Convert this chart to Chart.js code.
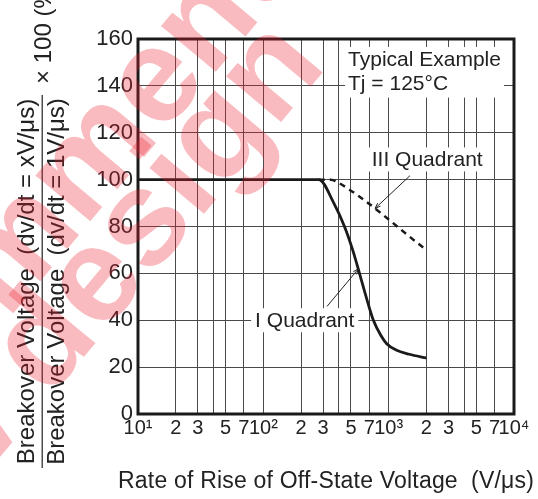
<!DOCTYPE html>
<html>
<head>
<meta charset="utf-8">
<script src="https://cdn.jsdelivr.net/npm/chart.js@4/dist/chart.umd.min.js"></script>
<style>
  html, body { margin: 0; padding: 0; background: #fff; }
  canvas { display: block; }
</style>
</head>
<body>
<canvas id="chart" width="538" height="499"></canvas>
<script>
// data
const iQuadrantX = [10, 277, 365, 444, 516, 585, 661, 755, 870, 964, 1146, 1462, 2000];
const iQuadrantY = [100, 100, 90, 80, 70, 60, 50, 40, 33.4, 30, 27.3, 25.5, 23.9];
const iiiQuadrantX = [277, 345, 400, 2000];
const iiiQuadrantY = [100, 100, 98.6, 70];

const xTicks = [10, 20, 30, 40, 50, 70, 100, 200, 300, 400, 500, 700, 1000, 2000, 3000, 4000, 5000, 7000, 10000];
const xTickLabels = ['10¹', '2', '3', '', '5', '7', '10²', '2', '3', '', '5', '7', '10³', '2', '3', '', '5', '7', '10⁴'];
const yTicks = [0, 10, 20, 30, 40, 50, 60, 70, 80, 90, 100, 110, 120, 130, 140, 150, 160];
const yTickLabels = ['0', '', '20', '', '40', '', '60', '', '80', '', '100', '', '120', '', '140', '', '160'];

const xTitle = 'Rate of Rise of Off-State Voltage  (V/μs)';
const yTitleNum = 'Breakover Voltage  (dv/dt = xV/μs)';
const yTitleDen = 'Breakover Voltage  (dv/dt = 1V/μs)';
const yTitleTimes = '× 100 (%)';

// annotation anchors in data units
const noteLines = ['Typical Example', 'Tj = 125°C'];
const noteAt = { x: 474, y: [151.5, 141] };
const iiiLabel = { text: 'III Quadrant', x: 733, y: 108.6, from: [1480, 101.7], to: [778, 87.7] };
const iLabel = { text: 'I Quadrant', x: 86, y: 40, from: [322, 45.9], to: [575, 62] };

const watermark = ['Not recommended', 'for new design'];

const FONT = '"Liberation Sans", Arial, Helvetica, sans-serif';
const INK = '#222';

function toXY(xs, ys) {
  return xs.map((x, i) => ({ x: x, y: ys[i] }));
}

// draw text stretched to a given width with letter spacing
function spacedText(ctx, text, x, y, width) {
  ctx.letterSpacing = '0px';
  const w = ctx.measureText(text).width;
  const sp = (width - w) / text.length;
  ctx.letterSpacing = sp.toFixed(2) + 'px';
  ctx.fillText(text, x, y);
  ctx.letterSpacing = '0px';
}

const decorations = {
  id: 'decorations',
  afterDatasetsDraw(chart) {
    const ctx = chart.ctx;
    const xs = chart.scales.x, ys = chart.scales.y;
    const area = chart.chartArea;

    ctx.save();
    ctx.font = '21px ' + FONT;
    ctx.textBaseline = 'middle';
    ctx.textAlign = 'left';

    function boxed(text, xv, yv) {
      const px = xs.getPixelForValue(xv), py = ys.getPixelForValue(yv);
      const w = ctx.measureText(text).width;
      ctx.fillStyle = '#fff';
      ctx.fillRect(px - 4, py - 12, w + 8, 24);
      ctx.fillStyle = INK;
      ctx.fillText(text, px, py + 1);
    }
    // typical example block
    let wMax = 0;
    noteLines.forEach(t => { wMax = Math.max(wMax, ctx.measureText(t).width); });
    const nx = xs.getPixelForValue(noteAt.x);
    const ny0 = ys.getPixelForValue(noteAt.y[0]), ny1 = ys.getPixelForValue(noteAt.y[1]);
    ctx.fillStyle = '#fff';
    ctx.fillRect(nx - 3, ny0 - 12, wMax + 6, ny1 - ny0 + 26);
    ctx.fillStyle = INK;
    noteLines.forEach((t, i) => ctx.fillText(t, nx, ys.getPixelForValue(noteAt.y[i]) + 1));

    boxed(iiiLabel.text, iiiLabel.x, iiiLabel.y);
    boxed(iLabel.text, iLabel.x, iLabel.y);

    // leader lines
    ctx.strokeStyle = INK;
    ctx.lineWidth = 1;
    [iiiLabel, iLabel].forEach(l => {
      const x0 = xs.getPixelForValue(l.from[0]), y0 = ys.getPixelForValue(l.from[1]);
      const x1 = xs.getPixelForValue(l.to[0]), y1 = ys.getPixelForValue(l.to[1]);
      ctx.beginPath();
      ctx.moveTo(x0, y0);
      ctx.lineTo(x1, y1);
      ctx.stroke();
      const a = Math.atan2(y1 - y0, x1 - x0);
      ctx.beginPath();
      ctx.moveTo(x1, y1);
      ctx.lineTo(x1 - 6 * Math.cos(a - 0.35), y1 - 6 * Math.sin(a - 0.35));
      ctx.moveTo(x1, y1);
      ctx.lineTo(x1 - 6 * Math.cos(a + 0.35), y1 - 6 * Math.sin(a + 0.35));
      ctx.stroke();
    });

    // frame
    ctx.strokeStyle = '#1a1a1a';
    ctx.lineWidth = 3;
    ctx.strokeRect(area.left, area.top, area.right - area.left, area.bottom - area.top);
    ctx.restore();
  },
  afterDraw(chart) {
    const ctx = chart.ctx;
    const area = chart.chartArea;
    ctx.save();
    ctx.fillStyle = INK;
    ctx.font = '23px ' + FONT;
    ctx.textBaseline = 'alphabetic';

    // x title, centred under the plot
    ctx.textAlign = 'left';
    const xMid = (area.left + area.right) / 2;
    spacedText(ctx, xTitle, xMid - 208, 488, 416);

    // y title as a fraction
    ctx.font = '24px ' + FONT;
    const mid = 281.5;
    ctx.save();
    ctx.translate(33.5, mid);
    ctx.rotate(-Math.PI / 2);
    ctx.textAlign = 'center';
    ctx.fillText(yTitleNum, 0, 0);
    ctx.restore();

    ctx.save();
    ctx.translate(63.5, mid);
    ctx.rotate(-Math.PI / 2);
    ctx.textAlign = 'center';
    ctx.fillText(yTitleDen, 0, 0);
    ctx.restore();

    ctx.fillRect(41.6, 95, 1.2, 373);

    ctx.save();
    ctx.translate(50.5, 84);
    ctx.rotate(-Math.PI / 2);
    ctx.textAlign = 'left';
    ctx.fillText(yTitleTimes, 0, 0);
    ctx.restore();

    // watermark
    ctx.fillStyle = 'rgba(235, 30, 45, 0.3)';
    ctx.font = 'bold 135px ' + FONT;
    ctx.textAlign = 'right';
    const ang = -50 * Math.PI / 180;
    ctx.save();
    ctx.translate(417, -168);
    ctx.rotate(ang);
    ctx.fillText(watermark[0], 0, 0);
    ctx.restore();
    ctx.save();
    ctx.translate(328, 66);
    ctx.rotate(ang);
    ctx.fillText(watermark[1], 0, 0);
    ctx.restore();
    ctx.restore();
  }
};

new Chart(document.getElementById('chart'), {
  type: 'line',
  data: {
    datasets: [
      {
        label: 'I Quadrant',
        data: toXY(iQuadrantX, iQuadrantY),
        borderColor: '#1a1a1a',
        borderWidth: 2.8,
        pointRadius: 0,
        cubicInterpolationMode: 'monotone'
      },
      {
        label: 'III Quadrant',
        data: toXY(iiiQuadrantX, iiiQuadrantY),
        borderColor: '#1a1a1a',
        borderWidth: 2.5,
        borderDash: [6, 5],
        pointRadius: 0,
        cubicInterpolationMode: 'monotone'
      }
    ]
  },
  options: {
    responsive: false,
    animation: false,
    events: [],
    layout: { padding: { top: 39, right: 24, left: 0, bottom: 0 } },
    plugins: {
      legend: { display: false },
      tooltip: { enabled: false }
    },
    scales: {
      x: {
        type: 'logarithmic',
        min: 10,
        max: 10000,
        afterBuildTicks: s => { s.ticks = xTicks.map(v => ({ value: v })); },
        afterFit: s => { s.height = 85; },
        ticks: {
          autoSkip: false,
          maxRotation: 0,
          padding: 2,
          color: INK,
          font: { family: FONT, size: 20 },
          callback: (v, i) => xTickLabels[i]
        },
        grid: { color: '#4a4a4a', lineWidth: 1, drawTicks: false },
        border: { display: false }
      },
      y: {
        min: 0,
        max: 160,
        afterBuildTicks: s => { s.ticks = yTicks.map(v => ({ value: v })); },
        afterFit: s => { s.width = 138; },
        ticks: {
          padding: 5,
          color: INK,
          font: { family: FONT, size: 22 },
          callback: (v, i) => yTickLabels[i]
        },
        grid: { color: '#4a4a4a', lineWidth: 1, drawTicks: false },
        border: { display: false }
      }
    }
  },
  plugins: [decorations]
});
</script>
</body>
</html>
